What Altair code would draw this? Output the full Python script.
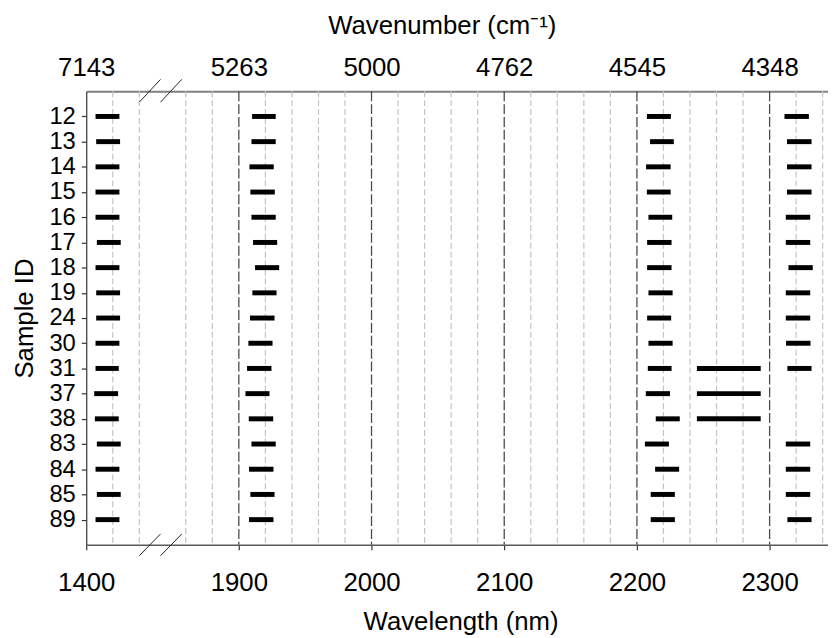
import altair as alt
import pandas as pd

# ---------------- data ----------------
sample_ids = ["12", "13", "14", "15", "16", "17", "18", "19", "24",
              "30", "31", "37", "38", "83", "84", "85", "89"]

band1400_start = [1407, 1407.5, 1407, 1407, 1407, 1408, 1407, 1407.5, 1407.5,
                  1407, 1407, 1406, 1406.5, 1408, 1407, 1408, 1407]
band1400_end = [1425, 1425.5, 1425, 1425, 1425, 1426, 1425, 1425.5, 1425.5,
                1425, 1424.5, 1424, 1424.5, 1426, 1425, 1426, 1425]

band1900_start = [1910, 1909.5, 1908, 1908.7, 1909.5, 1910.7, 1912.2, 1910.2, 1908.4,
                  1907.2, 1906.2, 1905, 1907.5, 1909.5, 1907.7, 1908.7, 1907.7]
band1900_end = [1927.8, 1927.8, 1926.3, 1927.1, 1927.8, 1928.9, 1930.4, 1928.4, 1926.9,
                1925.4, 1924.6, 1923.1, 1925.9, 1927.8, 1926.1, 1926.9, 1926.1]

band2200_start = [2207.5, 2209.9, 2206.9, 2207.5, 2208.7, 2207.7, 2207.7, 2208.7, 2207.7,
                  2208.7, 2208.2, 2206.7, 2214.2, 2206.0, 2213.7, 2210.4, 2210.4]
band2200_end = [2225.6, 2227.8, 2225.4, 2225.4, 2226.6, 2226.1, 2226.1, 2226.9, 2225.8,
                2226.9, 2226.1, 2224.9, 2232.3, 2224.1, 2231.8, 2228.6, 2228.6]

band2300_start = [2311.2, 2313.1, 2313.1, 2313.1, 2312.2, 2312.2, 2314.2, 2312.2, 2312.2,
                  2312.4, 2313.4, None, None, 2312.2, 2312.2, 2312.2, 2313.4]
band2300_end = [2329.6, 2331.6, 2331.6, 2331.6, 2330.6, 2330.6, 2332.5, 2330.6, 2330.6,
                2330.8, 2331.6, None, None, 2330.6, 2330.6, 2330.6, 2331.6]

wide_ids = ["31", "37", "38"]
wide_start = [2245.2, 2245.2, 2245.2]
wide_end = [2293.3, 2293.3, 2293.3]

tick_wavelengths = [1400, 1900, 2000, 2100, 2200, 2300]
minor_grid = [1420, 1440, 1860, 1880, 1920, 1940, 1960, 1980, 2020, 2040, 2060, 2080,
              2120, 2140, 2160, 2180, 2220, 2240, 2260, 2280, 2320, 2340]
major_grid = [1900, 2000, 2100, 2200, 2300]

# axis break: wavelengths >= 1800 are shifted left by this amount
BREAK_SHIFT = 385


def to_axis(w):
    return w if w < 1600 else w - BREAK_SHIFT


# ---------------- tables ----------------
rows = []
for i, sid in enumerate(sample_ids):
    for s, e in [(band1400_start[i], band1400_end[i]),
                 (band1900_start[i], band1900_end[i]),
                 (band2200_start[i], band2200_end[i]),
                 (band2300_start[i], band2300_end[i])]:
        if s is not None:
            rows.append({"id": sid, "x": to_axis(s), "x2": to_axis(e)})
for sid, s, e in zip(wide_ids, wide_start, wide_end):
    rows.append({"id": sid, "x": to_axis(s), "x2": to_axis(e)})
bars = pd.DataFrame(rows)

minor_df = pd.DataFrame({"x": [to_axis(w) for w in minor_grid]})
major_df = pd.DataFrame({"x": [to_axis(w) for w in major_grid]})
tick_pos = [to_axis(w) for w in tick_wavelengths]

break_df = pd.DataFrame({"x": [1440, 1456], "x2": [1456, 1472]})

FONT = "Liberation Sans"
xscale = alt.Scale(domain=[1400, 1959], nice=False, zero=False)
# inverse of to_axis, applied to axis positions
wl_expr = f"(datum.value < 1460 ? datum.value : datum.value + {BREAK_SHIFT})"

bottom_axis = alt.Axis(
    orient="bottom", values=tick_pos, labelExpr="'' + " + wl_expr,
    grid=False, domainColor="#5a5a5a", domainWidth=1.5,
    tickColor="#333333", tickSize=5, tickWidth=1.2,
    labelFont=FONT, labelFontSize=26, labelColor="black", labelPadding=20,
    labelFlush=False, labelOverlap=False,
    title="Wavelength (nm)", titleFont=FONT, titleFontSize=26,
    titleFontWeight="normal", titleColor="black",
    titleX=378, titleY=77, titleBaseline="middle", titleAlign="center",
)

top_axis = alt.Axis(
    orient="top", values=tick_pos,
    labelExpr=f"format(1e7 / {wl_expr}, '.0f')",
    grid=False, ticks=False, domainColor="#808080", domainWidth=2,
    labelFont=FONT, labelFontSize=26, labelColor="black", labelPadding=11,
    labelFlush=False, labelOverlap=False,
    title="Wavenumber (cm⁻¹)", titleFont=FONT, titleFontSize=26,
    titleFontWeight="normal", titleColor="black",
    titleX=359, titleY=-66, titleBaseline="middle", titleAlign="center",
)

y_axis = alt.Axis(
    grid=False, domainColor="#333333", domainWidth=1.2,
    tickColor="#333333", tickSize=5, tickWidth=1.2,
    labelFont=FONT, labelFontSize=24, labelColor="black", labelPadding=6,
    title="Sample ID", titleFont=FONT, titleFontSize=26,
    titleFontWeight="normal", titleColor="black",
    titleX=-62, titleY=229, titleBaseline="middle", titleAlign="center",
    titleAngle=270,
)

yscale = alt.Scale(type="point", domain=sample_ids, padding=1)

minor = alt.Chart(minor_df).mark_rule(
    color="#c4c4c4", strokeWidth=1.2, strokeDash=[6, 3]
).encode(x=alt.X("x:Q", scale=xscale, axis=top_axis))

major = alt.Chart(major_df).mark_rule(
    color="#4a4a4a", strokeWidth=1.3, strokeDash=[10, 3]
).encode(x=alt.X("x:Q", scale=xscale, axis=None))

bar_layer = alt.Chart(bars).mark_rule(
    color="black", strokeWidth=5, strokeCap="butt"
).encode(
    x=alt.X("x:Q", scale=xscale, axis=bottom_axis),
    x2="x2:Q",
    y=alt.Y("id:O", scale=yscale, sort=sample_ids, axis=y_axis),
)

break_top = alt.Chart(break_df).mark_rule(color="#222222", strokeWidth=1).encode(
    x=alt.X("x:Q", scale=xscale, axis=None), x2="x2:Q",
    y=alt.value(11), y2=alt.value(-12),
)
break_bottom = alt.Chart(break_df).mark_rule(color="#222222", strokeWidth=1).encode(
    x=alt.X("x:Q", scale=xscale, axis=None), x2="x2:Q",
    y=alt.value(469), y2=alt.value(447),
)

chart = alt.layer(minor, major, bar_layer, break_top, break_bottom).resolve_axis(
    x="independent"
).properties(
    width=749, height=458,
    padding={"left": 79, "top": 81, "right": 0, "bottom": 89},
    autosize=alt.AutoSizeParams(type="none"),
    background="white",
).configure_view(stroke=None)

chart.save("out.html", embed_options={"renderer": "svg", "actions": False})
